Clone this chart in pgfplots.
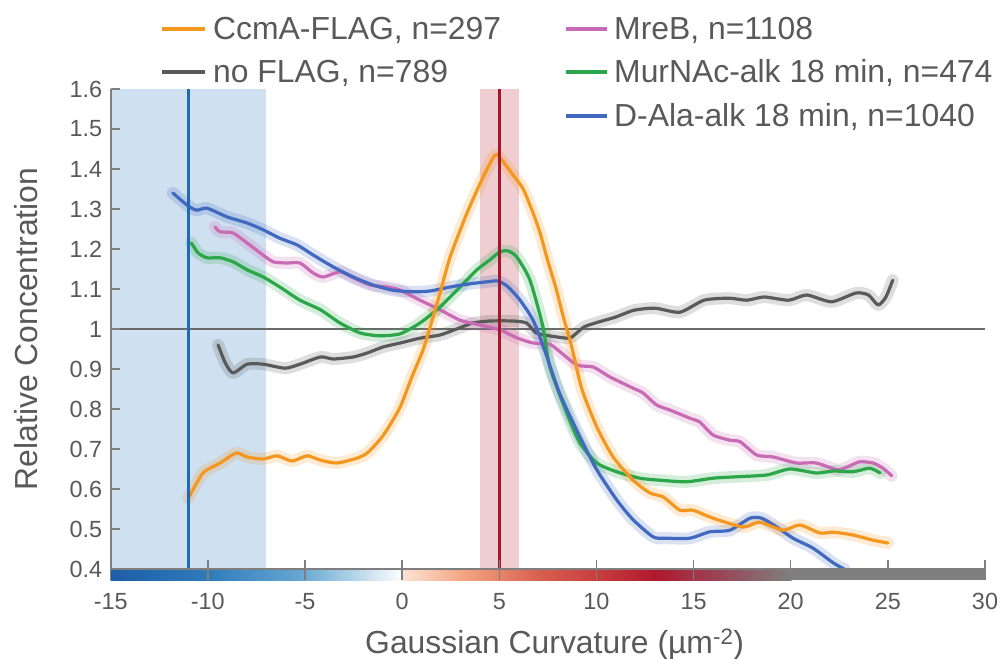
\documentclass[border=0pt]{standalone}
\usepackage{pgfplots}
\usepackage{pgfplotstable}
\pgfplotsset{compat=1.18}
\usepackage{fontspec}
\setmainfont{Liberation Sans}
\definecolor{txt}{HTML}{595959}
\definecolor{axgray}{HTML}{7F7F7F}
\definecolor{hgray}{HTML}{6A6A6A}
\definecolor{cOrange}{HTML}{F5961F}
\definecolor{cGray}{HTML}{5A5A5A}
\definecolor{cPink}{HTML}{C96AB4}
\definecolor{cGreen}{HTML}{2BA74A}
\definecolor{cBlue}{HTML}{4169C0}
\definecolor{bluereg}{HTML}{CFE0F0}
\definecolor{redreg}{HTML}{EFCDD0}
\definecolor{vblue}{HTML}{1F6AB5}
\definecolor{vred}{HTML}{A3182E}
\definecolor{cb1}{HTML}{1C5EA8}
\definecolor{cb2}{HTML}{2F7BBA}
\definecolor{cb3}{HTML}{6AAAD3}
\definecolor{cb4}{HTML}{FFFFFF}
\definecolor{cb5}{HTML}{FCE3D5}
\definecolor{cb6}{HTML}{F4A886}
\definecolor{cb7}{HTML}{D8604F}
\definecolor{cb8}{HTML}{C73E3F}
\definecolor{cb9}{HTML}{B0182E}
\definecolor{cb10}{HTML}{955060}
\definecolor{cb11}{HTML}{7F7F7F}

\pgfplotstableread{
x y
-11.0 0.577
-10.25 0.64
-9.37 0.665
-8.54 0.69
-7.98 0.68
-7.15 0.675
-6.44 0.683
-5.66 0.67
-4.89 0.683
-4.2 0.672
-3.35 0.665
-2.33 0.677
-1.8 0.69
-1.2 0.72
-0.78 0.748
-0.1 0.805
0.5 0.88
1.08 0.948
1.44 1.005
1.95 1.09
2.47 1.18
3.34 1.29
4.17 1.38
4.78 1.435
5.04 1.428
5.71 1.385
6.23 1.35
6.74 1.29
7.1 1.24
7.5 1.17
7.9 1.105
8.3 1.03
8.73 0.955
9.25 0.85
10.02 0.755
10.86 0.68
11.89 0.622
12.76 0.59
13.44 0.58
14.3 0.547
14.97 0.547
16.0 0.527
17.55 0.505
18.4 0.517
19.6 0.497
20.47 0.51
21.5 0.49
22.2 0.492
23.2 0.485
24.24 0.472
25.0 0.465
}\orangedata

\pgfplotstableread{
x y
-10.85 1.215
-10.5 1.19
-10.04 1.178
-9.37 1.178
-8.7 1.168
-7.98 1.148
-7.15 1.13
-6.3 1.105
-5.26 1.072
-4.2 1.048
-3.2 1.015
-2.16 0.99
-1.14 0.983
-0.1 0.988
0.92 1.015
1.95 1.055
2.98 1.105
3.85 1.148
4.52 1.173
5.04 1.193
5.46 1.195
5.9 1.18
6.58 1.122
7.25 1.005
7.6 0.905
8.47 0.79
9.15 0.715
10.02 0.665
11.04 0.643
12.24 0.627
13.26 0.622
14.63 0.618
15.99 0.627
17.0 0.63
18.76 0.635
19.95 0.65
21.33 0.64
22.2 0.645
23.2 0.643
24.06 0.652
24.6 0.64
}\greendata

\pgfplotstableread{
x y
-11.8 1.34
-11.0 1.307
-10.56 1.297
-10.04 1.302
-9.0 1.28
-7.98 1.265
-7.15 1.248
-6.3 1.227
-5.4 1.21
-4.58 1.185
-3.54 1.155
-2.52 1.13
-1.5 1.11
-0.47 1.097
0.56 1.093
1.44 1.095
2.47 1.105
3.5 1.113
4.37 1.118
4.94 1.12
5.46 1.105
6.07 1.072
6.74 1.022
7.35 0.945
8.1 0.84
9.15 0.73
10.02 0.648
11.04 0.573
11.89 0.523
12.93 0.48
13.6 0.477
14.81 0.477
15.84 0.493
16.87 0.497
17.9 0.527
18.5 0.527
19.28 0.505
20.12 0.477
21.15 0.452
22.2 0.415
22.75 0.4
}\bluedata

\pgfplotstableread{
x y
-9.63 1.255
-9.37 1.243
-8.7 1.24
-7.98 1.215
-7.3 1.19
-6.64 1.168
-5.92 1.165
-5.26 1.165
-4.58 1.14
-4.06 1.13
-3.2 1.143
-2.52 1.128
-1.65 1.11
-0.78 1.105
-0.1 1.097
0.92 1.072
1.95 1.048
2.98 1.022
4.0 1.01
5.04 0.998
5.9 0.978
6.74 0.965
7.6 0.962
8.0 0.948
9.0 0.91
9.83 0.905
10.7 0.88
11.89 0.852
12.4 0.84
13.1 0.81
13.8 0.797
14.81 0.777
15.33 0.767
16.0 0.735
16.87 0.722
17.4 0.718
18.25 0.685
19.1 0.68
20.3 0.665
21.3 0.665
22.4 0.648
22.9 0.655
23.55 0.668
24.24 0.665
24.75 0.652
25.2 0.633
}\pinkdata

\pgfplotstableread{
x y
-9.47 0.96
-9.1 0.915
-8.7 0.89
-7.98 0.912
-7.15 0.912
-6.03 0.902
-5.26 0.912
-4.2 0.93
-3.54 0.925
-2.52 0.93
-1.8 0.94
-0.98 0.955
-0.1 0.965
0.92 0.977
1.95 0.985
2.8 1.0
3.65 1.015
4.52 1.02
5.7 1.02
6.4 1.015
6.9 0.99
7.56 0.983
8.48 0.977
8.74 0.98
9.36 1.005
10.08 1.017
11.0 1.03
11.94 1.047
13.02 1.052
14.3 1.042
15.54 1.072
16.82 1.077
17.74 1.072
18.63 1.08
19.9 1.072
20.83 1.085
22.1 1.068
23.36 1.09
24.0 1.085
24.5 1.06
24.9 1.08
25.25 1.122
}\graydata

\begin{document}
\begin{tikzpicture}
\useasboundingbox (0,0) rectangle (1003bp,659bp);
\begin{axis}[
  at={(110.7bp,90bp)}, anchor=south west,
  scale only axis, width=874.3bp, height=480bp,
  xmin=-15, xmax=30, ymin=0.4, ymax=1.6,
  axis x line*=bottom, axis y line*=left,
  axis on top,
  clip mode=individual,
  xtick={-15,-10,-5,0,5,10,15,20,25,30},
  xticklabels={-15,-10,-5,0,5,10,15,20,25,30},
  ytick={0.4,0.5,0.6,0.7,0.8,0.9,1,1.1,1.2,1.3,1.4,1.5,1.6},
  yticklabels={0.4,0.5,0.6,0.7,0.8,0.9,1,1.1,1.2,1.3,1.4,1.5,1.6},
  tick align=inside, major tick length=9bp,
  tick style={draw=axgray, line width=1.5bp},
  axis line style={draw=axgray, line width=2bp},
  ticklabel style={font=\fontsize{23.5}{23.5}\selectfont, text=txt},
  xticklabel style={yshift=-21bp},
  yticklabel style={xshift=-5bp},
  every axis plot/.append style={no marks, smooth, tension=0.4, line join=round, line cap=round},
]
\fill[bluereg] (axis cs:-15,0.4) rectangle (axis cs:-7,1.6);
\fill[redreg] (axis cs:4,0.4) rectangle (axis cs:6,1.6);
\draw[hgray, line width=1.5bp] (axis cs:-15,1) -- (axis cs:30,1);

\addplot[draw=cGray, line width=12bp, draw opacity=0.2] table {\graydata};
\addplot[draw=cPink, line width=12bp, draw opacity=0.2] table {\pinkdata};
\addplot[draw=cGreen, line width=12bp, draw opacity=0.2] table {\greendata};
\addplot[draw=cBlue, line width=12bp, draw opacity=0.2] table {\bluedata};
\addplot[draw=cOrange, line width=12bp, draw opacity=0.2] table {\orangedata};

\addplot[draw=cGray, line width=3.2bp] table {\graydata};
\addplot[draw=cPink, line width=3.2bp] table {\pinkdata};
\addplot[draw=cGreen, line width=3.2bp] table {\greendata};
\addplot[draw=cBlue, line width=3.2bp] table {\bluedata};
\addplot[draw=cOrange, line width=3.2bp] table {\orangedata};

\draw[vblue, line width=3bp] (axis cs:-11,0.4) -- (axis cs:-11,1.6);
\draw[vred, line width=3bp] (axis cs:5,0.4) -- (axis cs:5,1.6);

% colour bar
\shade[left color=cb1, right color=cb2] (axis cs:-15,0.3725) rectangle (axis cs:-9.95,0.4);
\shade[left color=cb2, right color=cb3] (axis cs:-10,0.3725) rectangle (axis cs:-4.95,0.4);
\shade[left color=cb3, right color=cb4] (axis cs:-5,0.3725) rectangle (axis cs:0.05,0.4);
\shade[left color=cb5, right color=cb6] (axis cs:0,0.3725) rectangle (axis cs:3.05,0.4);
\shade[left color=cb6, right color=cb7] (axis cs:3,0.3725) rectangle (axis cs:7.05,0.4);
\shade[left color=cb7, right color=cb8] (axis cs:7,0.3725) rectangle (axis cs:10.05,0.4);
\shade[left color=cb8, right color=cb9] (axis cs:10,0.3725) rectangle (axis cs:13.05,0.4);
\shade[left color=cb9, right color=cb10] (axis cs:13,0.3725) rectangle (axis cs:17.05,0.4);
\shade[left color=cb10, right color=cb11] (axis cs:17,0.3725) rectangle (axis cs:20.05,0.4);
\fill[cb11] (axis cs:20,0.3725) rectangle (axis cs:30,0.4);
\pgfplotsinvokeforeach{-15,-10,-5,0,5,10,15,20,25,30}{
  \draw[axgray, line width=1.5bp] (axis cs:#1,0.3725) -- (axis cs:#1,0.4);
}
\end{axis}

% axis labels
\node[rotate=90, inner sep=0pt, font=\fontsize{32}{32}\selectfont, text=txt] at (26bp,330bp) {Relative Concentration};
\node[anchor=base west, inner sep=0pt, font=\fontsize{32}{32}\selectfont, text=txt] at (365bp,6bp) {Gaussian Curvature (µm\textsuperscript{-2})};

% legend
\begin{scope}[line width=4bp]
\draw[cOrange] (162bp,630bp) -- (205bp,630bp);
\draw[cGray] (162bp,587bp) -- (205bp,587bp);
\draw[cPink] (566bp,630bp) -- (607bp,630bp);
\draw[cGreen] (566bp,587bp) -- (607bp,587bp);
\draw[cBlue] (566bp,543bp) -- (607bp,543bp);
\end{scope}
\begin{scope}[every node/.style={anchor=base west, inner sep=0pt, font=\fontsize{32}{32}\selectfont, text=txt}]
\node at (213bp,619.5bp) {CcmA-FLAG, n=297};
\node at (213bp,576bp) {no FLAG, n=789};
\node at (614bp,619.5bp) {MreB, n=1108};
\node at (614bp,576bp) {MurNAc-alk 18 min, n=474};
\node at (614bp,532bp) {D-Ala-alk 18 min, n=1040};
\end{scope}
\end{tikzpicture}
\end{document}
